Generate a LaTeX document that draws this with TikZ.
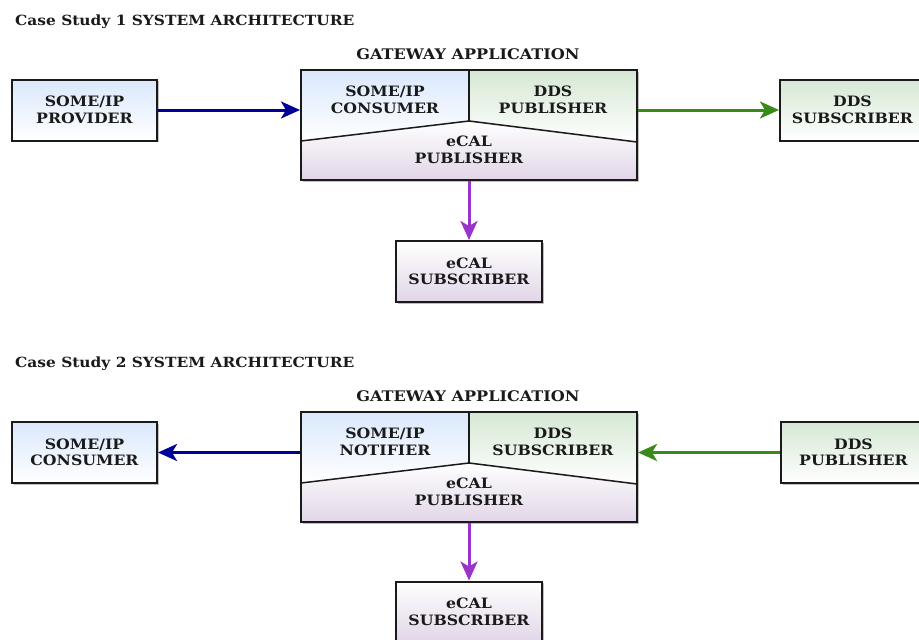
\documentclass[tikz,border=0pt]{standalone}
\usepackage{fontspec}
\setmainfont{DejaVu Serif}[FakeStretch=1.1]
\usetikzlibrary{arrows.meta,shadows}
\definecolor{bluT}{HTML}{DAE8FC}
\definecolor{grnT}{HTML}{D5E8D4}
\definecolor{purB}{HTML}{E1D5E7}
\definecolor{arrBlue}{HTML}{000099}
\definecolor{arrGreen}{HTML}{3A8A1A}
\definecolor{arrPurple}{HTML}{9933CC}
\definecolor{ink}{HTML}{1A1A1A}
\tikzset{
  x=1pt, y=1pt,
  lbl/.style={font=\bfseries\fontsize{14.3}{16.5}\selectfont, text=ink, align=center, inner sep=0pt},
  ttl/.style={font=\bfseries\fontsize{14}{16}\selectfont, text=ink, inner sep=0pt},
  boxbase/.style={lbl, draw=ink, line width=2pt, minimum width=145pt, minimum height=61pt,
    drop shadow={shadow xshift=1.5pt, shadow yshift=-1.5pt, opacity=.25, fill=black}},
  bluebox/.style={boxbase, top color=bluT, bottom color=white},
  greenbox/.style={boxbase, top color=grnT, bottom color=white},
  purplebox/.style={boxbase, top color=white, bottom color=purB},
  gwbox/.style={draw=ink, line width=2pt, minimum width=336pt, minimum height=110pt, inner sep=0pt},
  conn/.style={line width=3pt, -{Stealth[length=19pt, width=17pt, inset=5pt]}},
  bconn/.style={conn, draw=arrBlue, fill=arrBlue},
  gconn/.style={conn, draw=arrGreen, fill=arrGreen},
  pconn/.style={conn, draw=arrPurple, fill=arrPurple},
}
\begin{document}
\begin{tikzpicture}
\clip (0,0) rectangle (919,-640);
\fill[white] (0,0) rectangle (919,-640);
% ---------------- Case Study 1 ----------------
\node[ttl, anchor=base west] (t1) at (15,-25) {Case Study 1 SYSTEM ARCHITECTURE};
\node[ttl, anchor=base, font=\bfseries\fontsize{14.6}{16}\selectfont] (g1) at (468,-59) {GATEWAY APPLICATION};
\fill[black, opacity=.25] (302.5,-71.5) rectangle (638.5,-181.5);
\shade[top color=bluT, bottom color=white] (301,-70) -- (469,-70) -- (469,-121) -- (301,-141) -- cycle;
\shade[top color=grnT, bottom color=white] (469,-70) -- (637,-70) -- (637,-142) -- (469,-121) -- cycle;
\shade[top color=white, bottom color=purB] (301,-141) -- (469,-121) -- (637,-142) -- (637,-180) -- (301,-180) -- cycle;
\draw[ink, line width=1.5pt] (469,-70) -- (469,-121);
\draw[ink, line width=1.5pt] (301,-141) -- (469,-121) -- (637,-142);
\node[gwbox] (gw1) at (469,-125) {};
\node[lbl] (c1) at (385,-100) {SOME/IP\\CONSUMER};
\node[lbl] (p1) at (553,-100) {DDS\\PUBLISHER};
\node[lbl] (e1) at (469,-150) {eCAL\\PUBLISHER};
\node[bluebox] (prov1) at (84.5,-110) {SOME/IP\\PROVIDER};
\node[greenbox] (sub1) at (852.5,-110) {DDS\\SUBSCRIBER};
\node[purplebox, minimum width=146pt] (ecal1) at (469,-271.5) {eCAL\\SUBSCRIBER};
\draw[bconn] (prov1.east) -- (prov1.east -| gw1.west);
\draw[gconn] (sub1.west -| gw1.east) -- (sub1.west);
\draw[pconn] (gw1.south) -- (ecal1.north);
% ---------------- Case Study 2 ----------------
\begin{scope}[yshift=-342pt]
\node[ttl, anchor=base west] (t2) at (15,-25) {Case Study 2 SYSTEM ARCHITECTURE};
\node[ttl, anchor=base, font=\bfseries\fontsize{14.6}{16}\selectfont] (g2) at (468,-59) {GATEWAY APPLICATION};
\fill[black, opacity=.25] (302.5,-71.5) rectangle (638.5,-181.5);
\shade[top color=bluT, bottom color=white] (301,-70) -- (469,-70) -- (469,-121) -- (301,-141) -- cycle;
\shade[top color=grnT, bottom color=white] (469,-70) -- (637,-70) -- (637,-142) -- (469,-121) -- cycle;
\shade[top color=white, bottom color=purB] (301,-141) -- (469,-121) -- (637,-142) -- (637,-180) -- (301,-180) -- cycle;
\draw[ink, line width=1.5pt] (469,-70) -- (469,-121);
\draw[ink, line width=1.5pt] (301,-141) -- (469,-121) -- (637,-142);
\node[gwbox] (gw2) at (469,-125) {};
\node[lbl] (n2) at (385,-100) {SOME/IP\\NOTIFIER};
\node[lbl] (s2) at (553,-100) {DDS\\SUBSCRIBER};
\node[lbl] (e2) at (469,-150) {eCAL\\PUBLISHER};
\node[bluebox] (cons2) at (84.5,-110.5) {SOME/IP\\CONSUMER};
\node[greenbox] (pub2) at (853.5,-110.5) {DDS\\PUBLISHER};
\node[purplebox, minimum width=146pt] (ecal2) at (469,-270) {eCAL\\SUBSCRIBER};
\draw[bconn] (cons2.east -| gw2.west) -- (cons2.east);
\draw[gconn] (pub2.west) -- (pub2.west -| gw2.east);
\draw[pconn] (gw2.south) -- (ecal2.north);
\end{scope}
\end{tikzpicture}
\end{document}
